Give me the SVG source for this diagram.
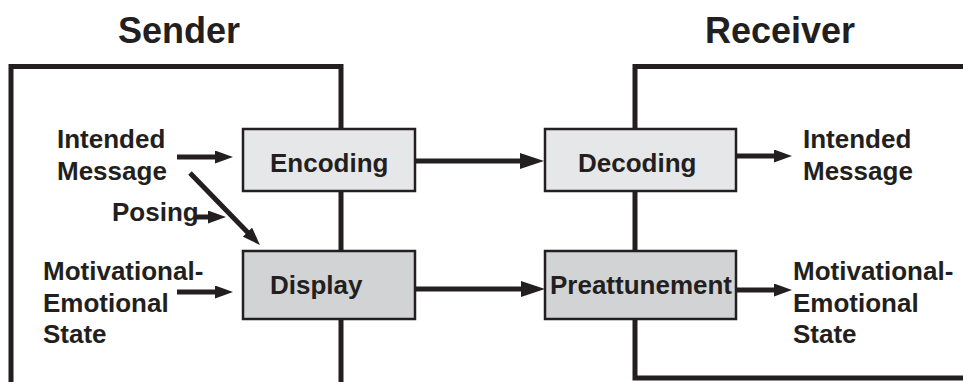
<svg xmlns="http://www.w3.org/2000/svg" width="963" height="382" viewBox="0 0 963 382">
<style>
.t{font-family:"Liberation Sans",Arial,sans-serif;font-weight:bold;fill:#231f20}
.lbl{font-size:26px}
.ttl{font-size:36px}
.frame{fill:none;stroke:#231f20;stroke-width:5}
.box{stroke:#231f20;stroke-width:2.5}
.light{fill:#e6e7e8}
.dark{fill:#d1d3d4}
.ar{stroke:#231f20;stroke-width:5;fill:none}
.s{marker-end:url(#ms)}
.l{marker-end:url(#ml)}
</style>
<defs>
<marker id="ms" markerUnits="userSpaceOnUse" markerWidth="18" markerHeight="13" refX="4" refY="6.5" orient="auto">
<path d="M0,0 L18,6.5 L0,13 z" fill="#231f20"/>
</marker>
<marker id="ml" markerUnits="userSpaceOnUse" markerWidth="24" markerHeight="16" refX="4" refY="8" orient="auto">
<path d="M0,0 L24,8 L0,16 z" fill="#231f20"/>
</marker>
</defs>
<g id="sender">
<path class="frame" d="M11,382 V66.5 H341 V382"/>
<text class="t ttl" x="118" y="43">Sender</text>
</g>
<g id="receiver">
<path class="frame" d="M963,66.5 H635 V378 H963"/>
<text class="t ttl" x="705" y="43">Receiver</text>
</g>
<g id="encoding">
<rect class="box light" x="243" y="129" width="172" height="62"/>
<text class="t lbl" x="270" y="172">Encoding</text>
</g>
<g id="display">
<rect class="box dark" x="243" y="251" width="172" height="68"/>
<text class="t lbl" x="270" y="294">Display</text>
</g>
<g id="decoding">
<rect class="box light" x="545" y="129" width="191" height="62"/>
<text class="t lbl" x="578" y="172">Decoding</text>
</g>
<g id="preattunement">
<rect class="box dark" x="545" y="251" width="191" height="68"/>
<text class="t lbl" x="550" y="294" textLength="182" lengthAdjust="spacingAndGlyphs">Preattunement</text>
</g>
<g id="sender-intended">
<text class="t lbl" x="57" y="148">Intended</text>
<text class="t lbl" x="57" y="180">Message</text>
</g>
<g id="posing">
<text class="t lbl" x="112" y="221">Posing</text>
</g>
<g id="sender-state">
<text class="t lbl" x="43" y="280">Motivational-</text>
<text class="t lbl" x="43" y="312">Emotional</text>
<text class="t lbl" x="43" y="343">State</text>
</g>
<g id="receiver-intended">
<text class="t lbl" x="803" y="148">Intended</text>
<text class="t lbl" x="803" y="180">Message</text>
</g>
<g id="receiver-state">
<text class="t lbl" x="793" y="280">Motivational-</text>
<text class="t lbl" x="793" y="312">Emotional</text>
<text class="t lbl" x="793" y="343">State</text>
</g>
<g id="connectors">
<line class="ar s" x1="177" y1="157" x2="219" y2="157"/>
<line class="ar s" x1="190" y1="173" x2="250.2" y2="235"/>
<line class="ar s" x1="194" y1="217" x2="212" y2="217"/>
<line class="ar s" x1="177" y1="292" x2="219" y2="292"/>
<line class="ar l" x1="414" y1="161" x2="524" y2="161"/>
<line class="ar l" x1="414" y1="289" x2="525" y2="289"/>
<line class="ar s" x1="737" y1="156" x2="778" y2="156"/>
<line class="ar s" x1="737" y1="290" x2="778" y2="290"/>
</g>
</svg>
